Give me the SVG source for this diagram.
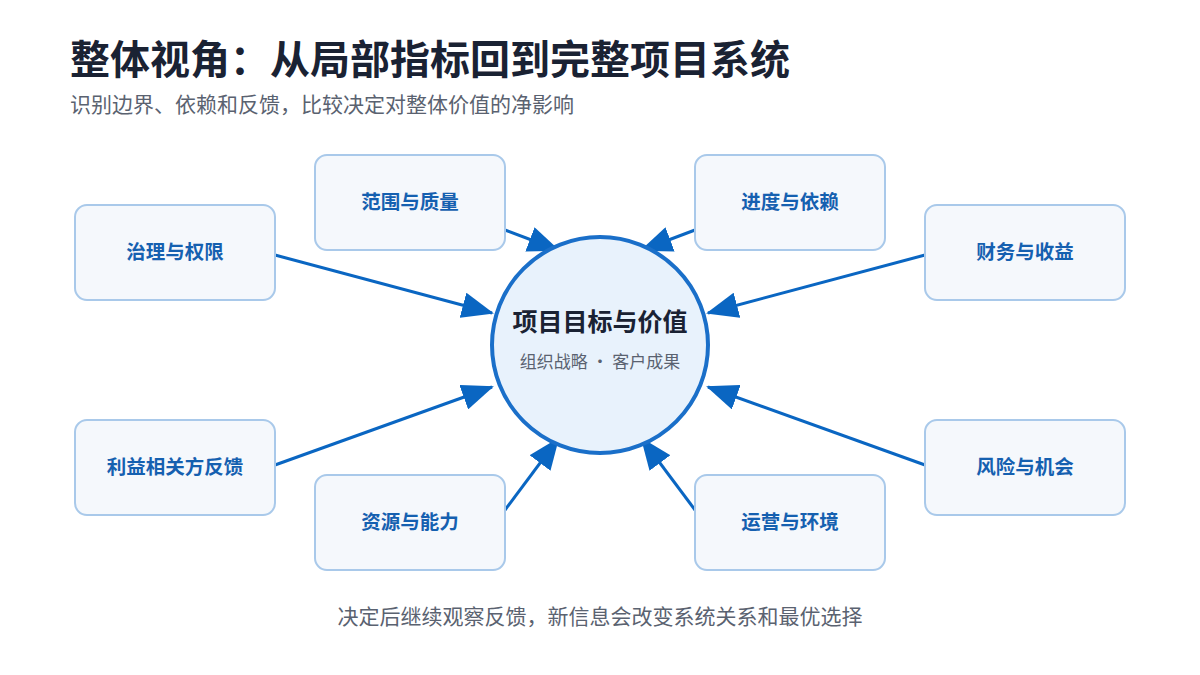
<svg xmlns="http://www.w3.org/2000/svg" width="1200" height="675" viewBox="0 0 1200 675">
<style>
text{font-family:"Noto Sans CJK SC","Noto Sans",sans-serif}
.box{fill:#f5f8fc;stroke:#a9c9ea;stroke-width:2}
.lbl{font-size:19.5px;font-weight:700;fill:#1560b0;text-anchor:middle}
.c{stroke:#0a66c2;stroke-width:3;fill:none;marker-end:url(#ah)}
</style>
<defs><marker id="ah" markerUnits="userSpaceOnUse" markerWidth="32" markerHeight="26" refX="30" refY="13" orient="auto"><path d="M0,0 L32,13 L0,26 Z" fill="#0a66c2"/></marker></defs>
<rect width="1200" height="675" fill="#fff"/>
<text x="70" y="74" font-size="40" font-weight="700" fill="#1a2233">整体视角：从局部指标回到完整项目系统</text>
<text x="70" y="112" font-size="21" fill="#5a6270">识别边界、依赖和反馈，比较决定对整体价值的净影响</text>
<g id="connectors">
<line class="c" x1="275" y1="255" x2="492" y2="313"/>
<line class="c" x1="505" y1="230" x2="558" y2="250"/>
<line class="c" x1="695" y1="230" x2="642" y2="250"/>
<line class="c" x1="925" y1="255" x2="708" y2="313"/>
<line class="c" x1="275" y1="465" x2="492" y2="387"/>
<line class="c" x1="505" y1="510" x2="558" y2="439"/>
<line class="c" x1="695" y1="510" x2="642" y2="439"/>
<line class="c" x1="925" y1="465" x2="708" y2="387"/>
</g>
<g id="center"><circle cx="600" cy="345" r="108" fill="#e8f2fc" stroke="#1a6fc9" stroke-width="4"/>
<text x="600" y="331" font-size="25" font-weight="700" fill="#1a2233" text-anchor="middle">项目目标与价值</text>
<text x="600" y="368" font-size="17" fill="#5a6270" text-anchor="middle">组织战略 · 客户成果</text></g>
<g id="n1"><rect class="box" x="75" y="205" width="200" height="95" rx="12"/><text class="lbl" x="175" y="259">治理与权限</text></g>
<g id="n2"><rect class="box" x="315" y="155" width="190" height="95" rx="12"/><text class="lbl" x="410" y="209">范围与质量</text></g>
<g id="n3"><rect class="box" x="695" y="155" width="190" height="95" rx="12"/><text class="lbl" x="790" y="209">进度与依赖</text></g>
<g id="n4"><rect class="box" x="925" y="205" width="200" height="95" rx="12"/><text class="lbl" x="1025" y="259">财务与收益</text></g>
<g id="n5"><rect class="box" x="75" y="420" width="200" height="95" rx="12"/><text class="lbl" x="175" y="474">利益相关方反馈</text></g>
<g id="n6"><rect class="box" x="315" y="475" width="190" height="95" rx="12"/><text class="lbl" x="410" y="529">资源与能力</text></g>
<g id="n7"><rect class="box" x="695" y="475" width="190" height="95" rx="12"/><text class="lbl" x="790" y="529">运营与环境</text></g>
<g id="n8"><rect class="box" x="925" y="420" width="200" height="95" rx="12"/><text class="lbl" x="1025" y="474">风险与机会</text></g>
<text x="600" y="624" font-size="21" fill="#5a6270" text-anchor="middle">决定后继续观察反馈，新信息会改变系统关系和最优选择</text>
</svg>
